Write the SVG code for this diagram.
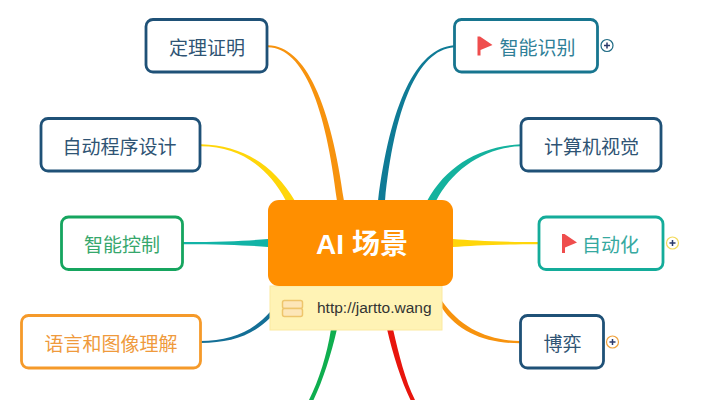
<svg xmlns="http://www.w3.org/2000/svg" width="709" height="400" viewBox="0 0 709 400">
<style>
.n{fill:#fff;stroke-width:2.800}
.t{font-family:"Noto Sans CJK SC","Noto Sans",sans-serif;font-size:19px;text-anchor:middle;dominant-baseline:central}
.f{fill:#ef4d4d}
.p{fill:#fff;stroke-width:1.200}
.x{stroke:#2b3a6b;stroke-width:1.500;fill:none}
</style>
<defs>
<g id="plus"><path class="x" d="M-3,0H3M0,-3V3"/></g>
<path id="flag" d="M0,0H2.500L15,8.500L3,13.500V19H0Z"/>
</defs>
<rect width="709" height="400" fill="#fff"/>
<g id="connectors">
<path fill="#f7930e" d="M268,45.200C306,46 331,105 344,201L337,201C326,108 304,48 268,47.300Z"/>
<path fill="#ffd60a" d="M201,144.200C242,145 274,165 295,201L286,201C268,167 240,146.500 201,146.300Z"/>
<path fill="#12b3a6" d="M183,242C225,242 250,240.500 268,239V247C250,245.500 225,244.200 183,244.200Z"/>
<path fill="#146f96" d="M200,341C230,341 252,332 270,312V318C252,336 230,343 200,342.900Z"/>
<path fill="#0f7b96" d="M454,45.200C416,48 390,105 378,201L385,201C394,110 417,50 454,47.300Z"/>
<path fill="#14b29e" d="M521,144.200C482,146 447,164 427,201L436,201C452,170 484,147 521,146.300Z"/>
<path fill="#ffd60a" d="M539,242C497,242 472,240.500 453,239V247C472,245.500 497,244.200 539,244.200Z"/>
<path fill="#f7930e" d="M520,341C487,340.500 460,327 442,301V308C458,332 485,343.200 520,343.200Z"/>
<path fill="#0fae4f" d="M331,329C327,355 319,380 309,400H313.500C323,380 331,355 337,329Z"/>
<path fill="#e8150d" d="M387,329C393,355 401,380 410.500,400H415C405,380 399,355 393,329Z"/>
</g>
<g id="node-center">
<rect x="270" y="286" width="172" height="44" fill="#fff3b5" stroke="#fbe9a0"/>
<rect x="268" y="200" width="185" height="86" rx="11" fill="#ff8f00"/>
<text x="362" y="244" text-anchor="middle" dominant-baseline="central" fill="#fff" font-family="'Liberation Sans','Noto Sans CJK SC',sans-serif" font-size="28" font-weight="700">AI 场景</text>
<rect x="282.500" y="300.500" width="20" height="8" rx="2" fill="#fde6b8" stroke="#eec56c" stroke-width="1.500"/>
<rect x="282.500" y="308.500" width="20" height="8" rx="2" fill="#fde6b8" stroke="#eec56c" stroke-width="1.500"/>
<text x="317" y="313" fill="#333" font-family="'Liberation Sans',sans-serif" font-size="15.500">http://jartto.wang</text>
</g>
<g id="node-dingli">
<rect class="n" x="146" y="19.500" width="121" height="52.500" rx="7" stroke="#1f5177"/>
<text class="t" x="207" y="46" fill="#2f5474">定理证明</text>
</g>
<g id="node-zidong-chengxu">
<rect class="n" x="41" y="118.500" width="159" height="52.500" rx="7" stroke="#1f5177"/>
<text class="t" x="119.500" y="145" fill="#2f5474">自动程序设计</text>
</g>
<g id="node-kongzhi">
<rect class="n" x="61.500" y="217" width="121" height="52.500" rx="7" stroke="#16a55f"/>
<text class="t" x="122" y="243.500" fill="#36a76c">智能控制</text>
</g>
<g id="node-yuyan">
<rect class="n" x="21.500" y="315.500" width="179" height="52.500" rx="7" stroke="#f59a2a"/>
<text class="t" x="111" y="342.500" fill="#ef9a3c">语言和图像理解</text>
</g>
<g id="node-shibie">
<rect class="n" x="454.500" y="19.500" width="143" height="52.500" rx="7" stroke="#17758f"/>
<use href="#flag" class="f" x="477.500" y="36.500"/>
<text class="t" x="537.500" y="46" fill="#2f7f98">智能识别</text>
<g transform="translate(607,45.500)"><circle class="p" r="6" stroke="#1f6a84"/><use href="#plus"/></g>
</g>
<g id="node-shijue">
<rect class="n" x="521" y="118.500" width="140" height="52.500" rx="7" stroke="#1f5177"/>
<text class="t" x="591.500" y="145" fill="#2f5474">计算机视觉</text>
</g>
<g id="node-zidonghua">
<rect class="n" x="539" y="217" width="124" height="52.500" rx="7" stroke="#14ac9a"/>
<use href="#flag" class="f" x="562" y="234"/>
<text class="t" x="610.500" y="243.500" fill="#36a9a0">自动化</text>
<g transform="translate(672.500,243)"><circle class="p" r="6" stroke="#f3da5a"/><use href="#plus"/></g>
</g>
<g id="node-boyi">
<rect class="n" x="520.500" y="315.500" width="83" height="52.500" rx="7" stroke="#1f5177"/>
<text class="t" x="562.500" y="342.500" fill="#2f5474">博弈</text>
<g transform="translate(612.500,342)"><circle class="p" r="6" stroke="#f0a23c"/><use href="#plus"/></g>
</g>
</svg>
